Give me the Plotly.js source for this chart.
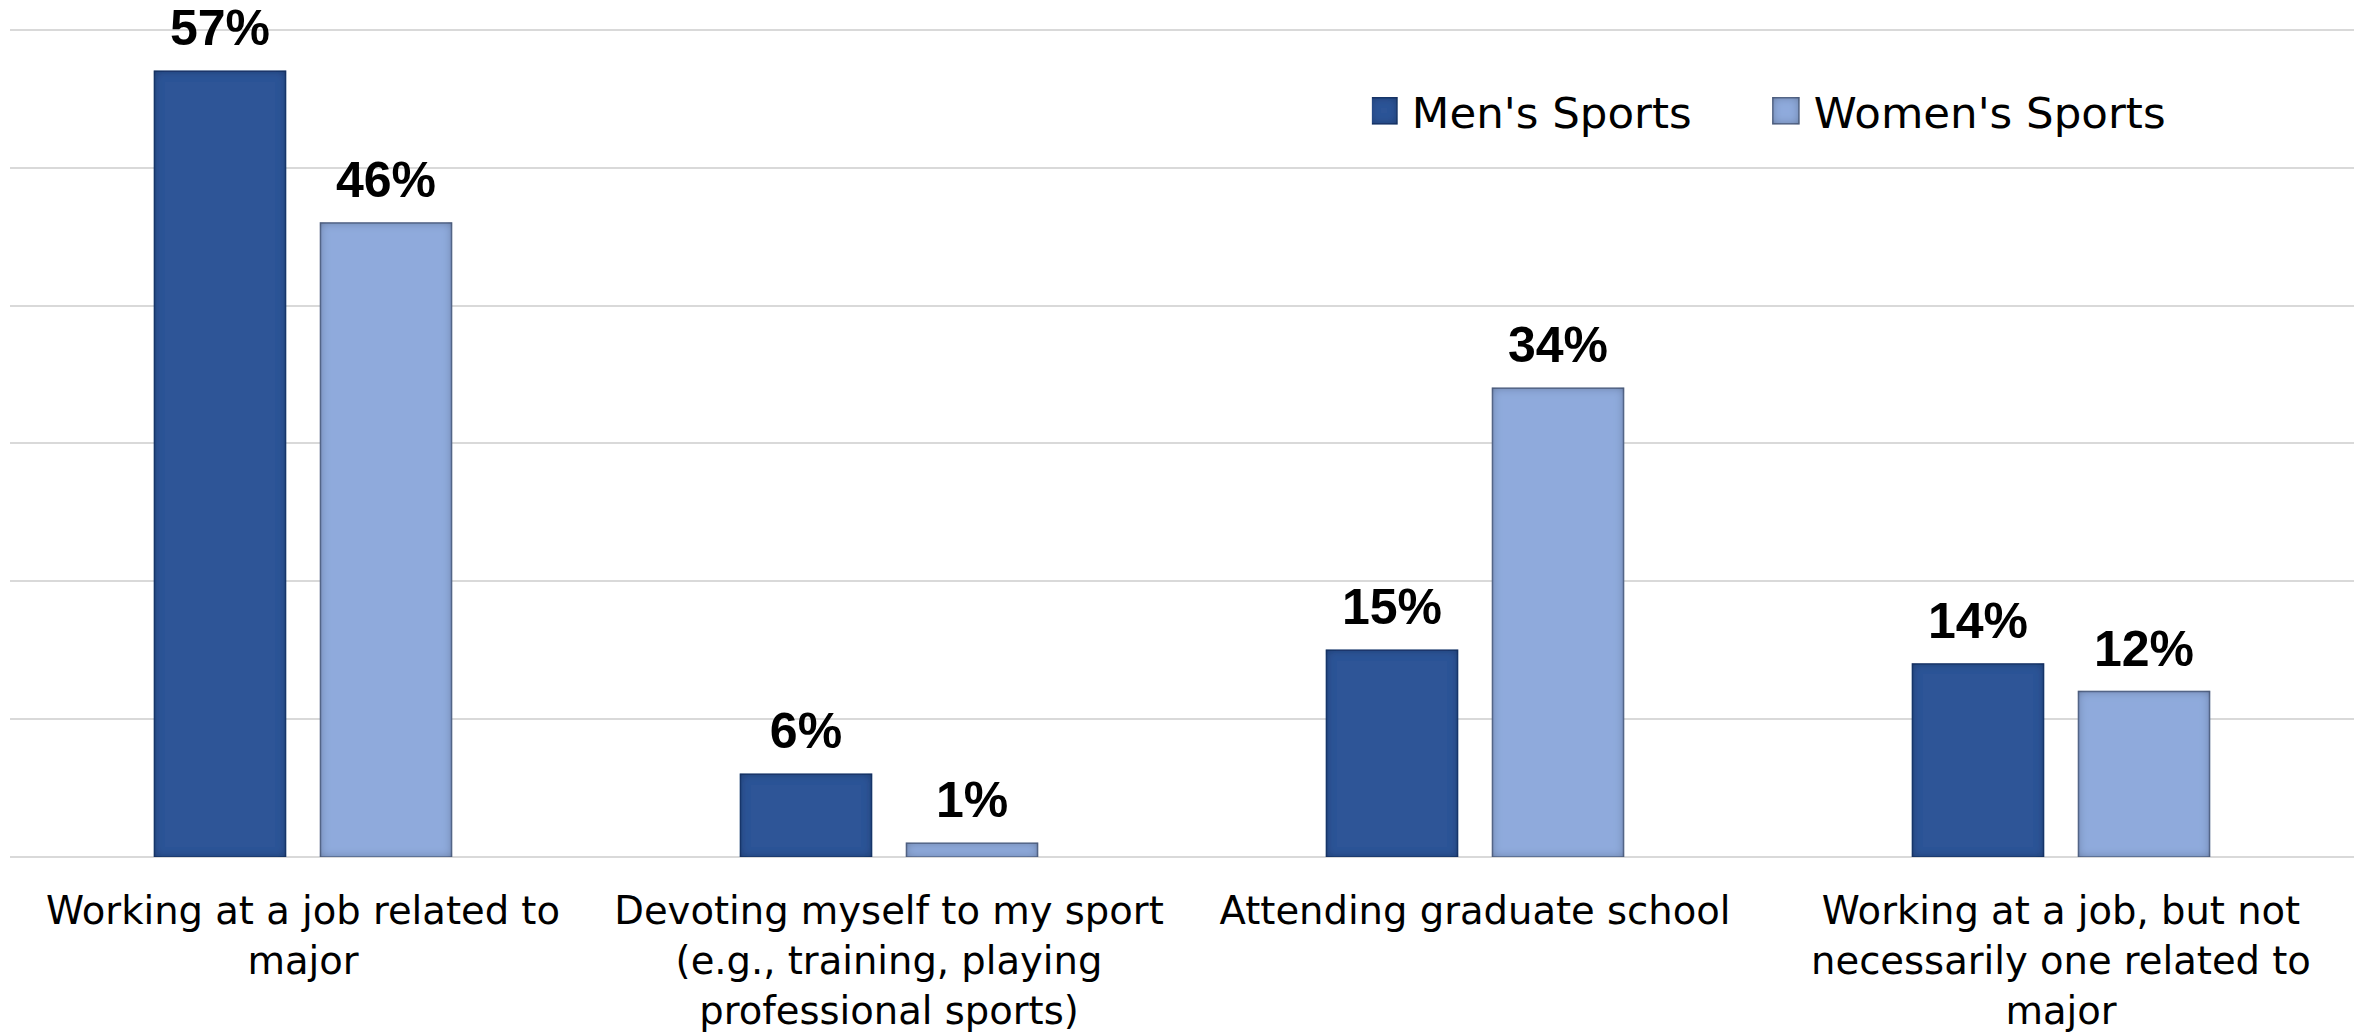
<!DOCTYPE html>
<html>
<head>
<meta charset="utf-8">
<script src="https://cdn.plot.ly/plotly-3.0.1.min.js"></script>
<style>
  html, body { margin: 0; padding: 0; background: #ffffff; }
  #chart { width: 2366px; height: 1033px; }
</style>
</head>
<body>
<div id="chart"></div>
<script>
// ---- data ----
const categories = [
  "Working at a job related to<br>major",
  "Devoting myself to my sport<br>(e.g., training, playing<br>professional sports)",
  "Attending graduate school",
  "Working at a job, but not<br>necessarily one related to<br>major"
];
const seriesNames = ["Men's Sports", "Women's Sports"];
const mensValues = [57, 6, 15, 14];
const womensValues = [46, 1, 34, 12];

// ---- styles ----
const menColor = "#2F5597";
const womenColor = "#8FAADC";
const valueFont = { family: "Liberation Sans, Arial, sans-serif", size: 50, color: "#000000", weight: "bold" };

const traces = [
  {
    type: "bar",
    name: seriesNames[0],
    x: categories,
    y: mensValues,
    marker: { color: menColor, line: { color: "#22407a", width: 1.5 } },
    texttemplate: "%{y}%",
    textposition: "outside",
    cliponaxis: false,
    textfont: valueFont,
    hoverinfo: "skip"
  },
  {
    type: "bar",
    name: seriesNames[1],
    x: categories,
    y: womensValues,
    marker: { color: womenColor, line: { color: "#62769c", width: 1.5 } },
    texttemplate: "%{y}%",
    textposition: "outside",
    cliponaxis: false,
    textfont: valueFont,
    hoverinfo: "skip"
  }
];

const layout = {
  width: 2366,
  height: 1033,
  margin: { l: 10, r: 12, t: 23, b: 176 },
  paper_bgcolor: "#ffffff",
  plot_bgcolor: "#ffffff",
  barmode: "group",
  bargap: 0.4334,
  bargroupgap: 0.211,
  font: { family: "DejaVu Sans, sans-serif", color: "#000000" },
  showlegend: true,
  legend: {
    orientation: "h",
    x: 0.581,
    xanchor: "left",
    y: 0.8946,
    yanchor: "middle",
    font: { family: "DejaVu Sans, sans-serif", size: 43.5, color: "#000000" },
    entrywidth: 357,
    bgcolor: "rgba(0,0,0,0)",
    borderwidth: 0
  },
  xaxis: {
    type: "category",
    showgrid: false,
    showline: false,
    zeroline: false,
    ticks: "",
    ticklabelstandoff: 27,
    tickfont: { family: "DejaVu Sans, sans-serif", size: 38.5, color: "#000000" },
    fixedrange: true
  },
  yaxis: {
    range: [0, 60.5],
    tickvals: [0, 10, 20, 30, 40, 50, 60],
    showticklabels: false,
    ticks: "",
    showgrid: true,
    gridcolor: "#d9d9d9",
    gridwidth: 2,
    zeroline: true,
    zerolinecolor: "#d9d9d9",
    zerolinewidth: 2,
    showline: false,
    fixedrange: true
  }
};

const SVGNS = "http://www.w3.org/2000/svg";
function ensureFilter(gd) {
  const svg = gd.querySelector("svg.main-svg");
  if (!svg) return;
  if (svg.querySelector("#innerShadow")) return;
  let defs = svg.querySelector("defs");
  if (!defs) { defs = document.createElementNS(SVGNS, "defs"); svg.insertBefore(defs, svg.firstChild); }
  const f = document.createElementNS(SVGNS, "filter");
  f.setAttribute("id", "innerShadow");
  f.setAttribute("x", "-50%"); f.setAttribute("y", "-50%");
  f.setAttribute("width", "200%"); f.setAttribute("height", "200%");
  const mk = (tag, attrs) => {
    const e = document.createElementNS(SVGNS, tag);
    for (const k in attrs) e.setAttribute(k, attrs[k]);
    return e;
  };
  f.appendChild(mk("feFlood", { "flood-color": "#000000", "flood-opacity": "0.6", result: "flood" }));
  f.appendChild(mk("feComposite", { in: "flood", in2: "SourceAlpha", operator: "out", result: "outside" }));
  f.appendChild(mk("feGaussianBlur", { in: "outside", stdDeviation: "5", result: "blur" }));
  f.appendChild(mk("feComposite", { in: "blur", in2: "SourceAlpha", operator: "in", result: "shadow" }));
  const merge = mk("feMerge", {});
  merge.appendChild(mk("feMergeNode", { in: "SourceGraphic" }));
  merge.appendChild(mk("feMergeNode", { in: "shadow" }));
  f.appendChild(merge);
  defs.appendChild(f);
}

function decorate() {
  const gd = document.getElementById("chart");
  ensureFilter(gd);
  gd.querySelectorAll(".legend .legendpoints path").forEach(p => {
    p.setAttribute("d", "M5,13H-21V-13H5Z");
    p.setAttribute("filter", "url(#innerShadow)");
  });
  gd.querySelectorAll(".trace.bars .point path").forEach(p => {
    p.setAttribute("filter", "url(#innerShadow)");
  });
  gd.querySelectorAll(".trace.bars .point text").forEach(t => {
    if (t.dataset.orig === undefined) t.dataset.orig = t.getAttribute("transform") || "";
    t.setAttribute("transform", "translate(0,-12) " + t.dataset.orig);
  });
}

const gdEl = document.getElementById("chart");
const prom = Plotly.newPlot(gdEl, traces, layout, { displayModeBar: false, staticPlot: true });
if (gdEl.on) gdEl.on("plotly_afterplot", decorate);
prom.then(() => {
  decorate();
  setTimeout(decorate, 100);
  setTimeout(decorate, 500);
});
</script>
</body>
</html>
